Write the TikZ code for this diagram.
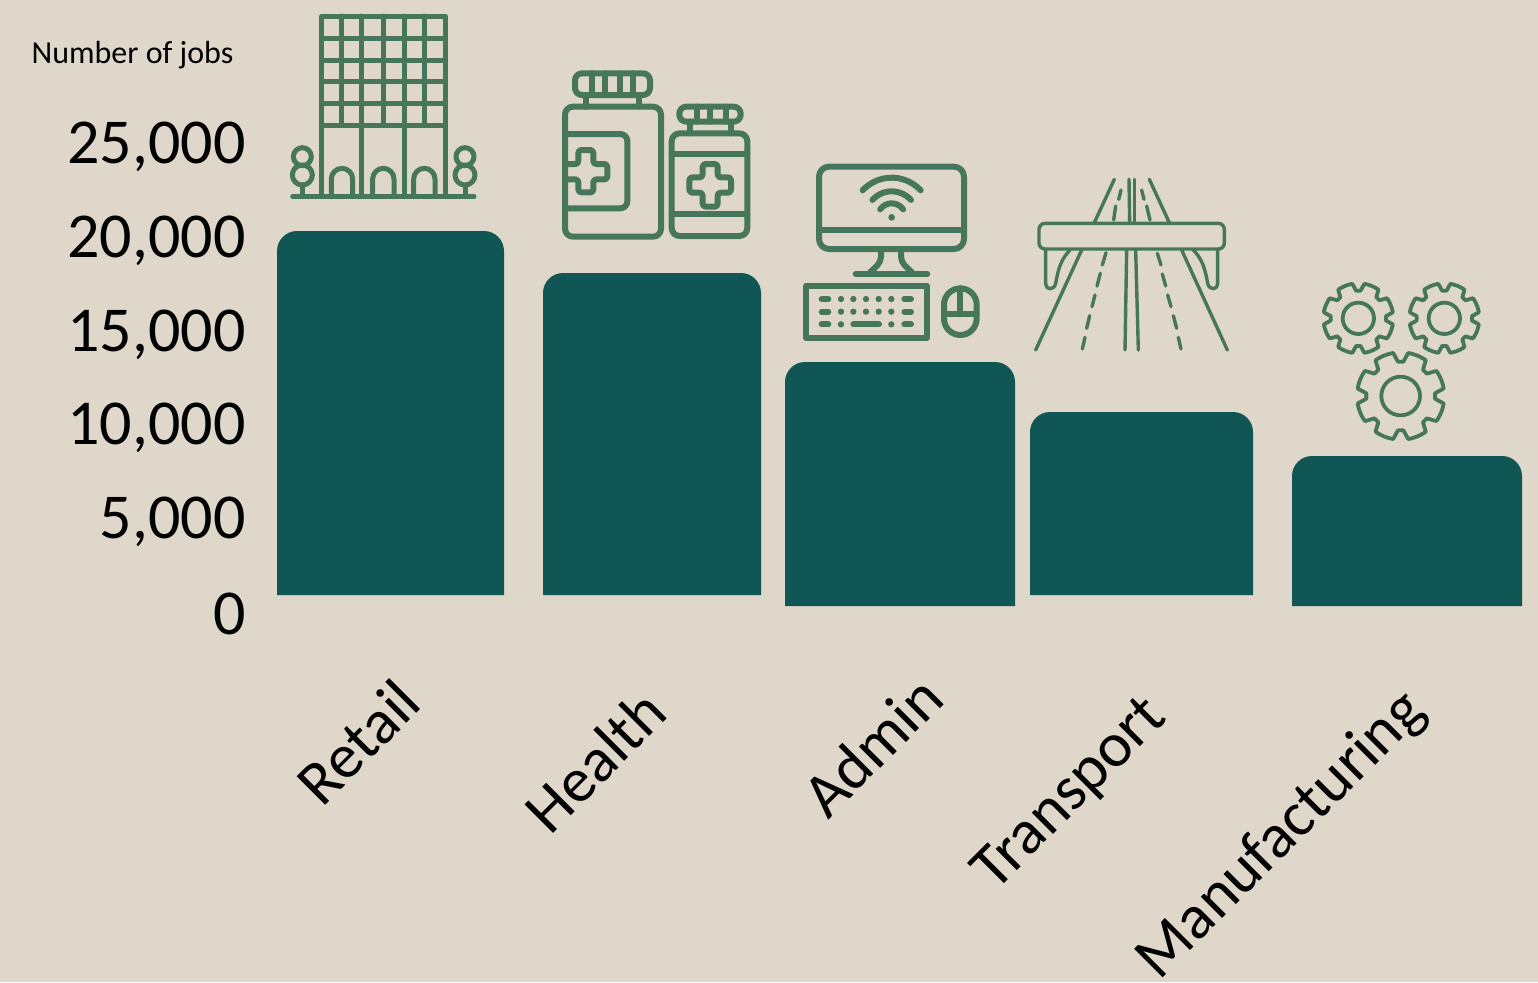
\documentclass[tikz,border=0pt]{standalone}
\usepackage{fontspec}
\setmainfont{Carlito}
\definecolor{bgc}{HTML}{DFD7CA}
\definecolor{barc}{HTML}{105654}
\definecolor{icon}{HTML}{47775B}
\tikzset{
  tick/.style={font=\fontsize{32}{36}\selectfont,anchor=east,inner sep=0pt,text=black},
  cat/.style={font=\fontsize{31.5}{36}\selectfont,rotate=45,inner sep=0pt,text=black},
  ico/.style={draw=icon,line width=2.5pt,line cap=round,line join=round},
  bold ico/.style={draw=icon,line width=3pt,line cap=round,line join=round},
  thin ico/.style={draw=icon,line width=1.7pt,line cap=round,line join=round},
}
\newcommand{\gearat}[5]{% cx cy R depth hole
  \draw[ico,line width=1.9pt] plot[domain=0:360,samples=361] ({#1+(#3-#4*max(0,min(1,-0.3+1.6*cos(8*\x))))*cos(\x)},{#2+(#3-#4*max(0,min(1,-0.3+1.6*cos(8*\x))))*sin(\x)}) -- cycle;
  \draw[ico,line width=1.9pt] (#1,#2) circle[radius=#5];
}
\begin{document}
\begin{tikzpicture}[x=0.5pt,y=-0.5pt]
\useasboundingbox (0,0) rectangle (1538,982);
\clip (0,0) rectangle (1538,982);
\fill[bgc] (0,0) rectangle (1538,982);
% bars
\fill[barc] (277,595) -- (277,251) arc[start angle=180,end angle=270,radius=20] -- (484,231) arc[start angle=-90,end angle=0,radius=20] -- (504,595) -- cycle;
\fill[barc] (543,595) -- (543,293) arc[start angle=180,end angle=270,radius=20] -- (741,273) arc[start angle=-90,end angle=0,radius=20] -- (761,595) -- cycle;
\fill[barc] (785,606) -- (785,382) arc[start angle=180,end angle=270,radius=20] -- (995,362) arc[start angle=-90,end angle=0,radius=20] -- (1015,606) -- cycle;
\fill[barc] (1030,595) -- (1030,432) arc[start angle=180,end angle=270,radius=20] -- (1233,412) arc[start angle=-90,end angle=0,radius=20] -- (1253,595) -- cycle;
\fill[barc] (1292,606) -- (1292,476) arc[start angle=180,end angle=270,radius=20] -- (1502,456) arc[start angle=-90,end angle=0,radius=20] -- (1522,606) -- cycle;
% axis text
\node[anchor=center,inner sep=0pt,font=\fontsize{16}{19}\selectfont] (ytitle) at (132.5,55) {Number of jobs};
\node[tick] (t25) at (246,147) {25,000};
\node[tick] (t20) at (246,241) {20,000};
\node[tick] (t15) at (246,335) {15,000};
\node[tick] (t10) at (246,428) {10,000};
\node[tick] (t5) at (246,522) {5,000};
\node[tick] (t0) at (246,614) {0};
\node[cat] (cRetail) at (358,742) {Retail};
\node[cat] (cHealth) at (595,761) {Health};
\node[cat] (cAdmin) at (872,746) {Admin};
\node[cat] (cTransport) at (1071,795) {Transport};
\node[cat] (cManu) at (1282,836) {Manufacturing};
% building
\begin{scope}[shift={(280,0)},scale=1/3]
\draw[ico] (125,48) rectangle (495,590);
\foreach \y in {115,182,245,310,375} \draw[ico] (125,\y) -- (495,\y);
\foreach \x in {185,245,310,372,432} \draw[ico] (\x,48) -- (\x,375);
\foreach \x in {245,372} \draw[ico] (\x,375) -- (\x,590);
\draw[ico] (38,590) -- (582,590);
\foreach \x in {186,310,433} \draw[ico] (\x-32,590) -- (\x-32,537) arc[start angle=180,end angle=360,radius=32] -- (\x+32,590);
\foreach \x in {67,555} {
  \draw[ico] (\x,470) circle[radius=27];
  \draw[ico] (\x,525) circle[radius=30];
  \draw[ico] (\x,555) -- (\x,590);
}
\end{scope}
% bottles
\begin{scope}[shift={(550,60)},scale=1/3]
\draw[bold ico,rounded corners=4pt] (45,140) rectangle (333,530);
\draw[bold ico,rounded corners=3.5pt] (75,40) rectangle (300,105);
\foreach \x in {125,165,210,250} \draw[bold ico] (\x,40) -- (\x,105);
\foreach \x in {108,268} \draw[bold ico] (\x,105) -- (\x,140);
\draw[bold ico,rounded corners=3.5pt] (45,222) -- (232,222) -- (232,445) -- (45,445);
\draw[bold ico,rounded corners=1.5pt] (45,312) -- (85,312) -- (85,270) -- (130,270) -- (130,312) -- (172,312) -- (172,358) -- (130,358) -- (130,397) -- (85,397) -- (85,358) -- (45,358);
\draw[bold ico,rounded corners=4pt] (365,220) rectangle (592,528);
\draw[bold ico,rounded corners=3.5pt] (388,140) rectangle (572,185);
\foreach \x in {440,480,528} \draw[bold ico] (\x,140) -- (\x,185);
\foreach \x in {420,542} \draw[bold ico] (\x,185) -- (\x,220);
\foreach \y in {283,462} \draw[bold ico] (365,\y) -- (592,\y);
\draw[bold ico,rounded corners=1.5pt] (458,312) -- (503,312) -- (503,352) -- (543,352) -- (543,398) -- (503,398) -- (503,440) -- (458,440) -- (458,398) -- (418,398) -- (418,352) -- (458,352) -- cycle;
\end{scope}
% computer
\begin{scope}[shift={(795,155)},scale=1/3]
\draw[bold ico,rounded corners=5pt] (72,35) rectangle (507,282);
\draw[bold ico] (72,225) -- (507,225);
\draw[bold ico] (182,357) -- (397,357);
\draw[bold ico] (258,282) -- (258,305) .. controls (258,325) and (240,338) .. (225,352);
\draw[bold ico] (318,282) -- (318,305) .. controls (318,325) and (336,338) .. (351,352);
\foreach \r/\a in {42/35,78/42,119/43} \draw[bold ico] (290,187) ++(-\a:\r) arc[start angle=-\a,end angle=-180+\a,radius=\r];
\fill[icon] (290,187) circle[radius=10];
\draw[bold ico] (32,392) rectangle (397,548);
\foreach \y in {432,470,508} {
  \foreach \x in {138,289} \fill[icon] (\x,\y) circle[radius=9.5];
  \draw[bold ico] (80,\y) -- (100,\y);
  \draw[bold ico] (328,\y) -- (348,\y);
}
\foreach \y in {432,470} \foreach \x in {175,213,251} \fill[icon] (\x,\y) circle[radius=9.5];
\draw[bold ico] (175,508) -- (252,508);
\draw[bold ico] (447,449) arc[start angle=180,end angle=360,radius=49] -- (545,491) arc[start angle=0,end angle=180,radius=49] -- cycle;
\draw[bold ico] (447,478) -- (545,478);
\draw[bold ico] (496,400) -- (496,478);
\end{scope}
% road
\begin{scope}[shift={(1025,170)},scale=1/3]
\draw[thin ico,rounded corners=3pt] (42,160) rectangle (598,237);
\draw[thin ico] (268,28) -- (208,158);
\draw[thin ico] (373,28) -- (433,158);
\draw[thin ico] (312,28) -- (314,158);
\draw[thin ico] (328,28) -- (328,158);
\draw[thin ico] (170,240) -- (32,540);
\draw[thin ico] (470,240) -- (607,540);
\draw[thin ico] (305,240) -- (300,540);
\draw[thin ico] (332,240) -- (340,540);
\foreach \a/\b/\c/\d in {288/60/281/88,272/108/266/150,243/248/232/285,226/310/216/348,210/375/201/410,194/437/185/475,180/502/172/537,350/60/357/88,365/108/375/150,397/250/408/285,412/312/422/348,428/375/438/410,445/437/455/475,460/502/468/537}
  \draw[thin ico] (\a,\b) -- (\c,\d);
\draw[thin ico] (62,240) -- (62,342) .. controls (62,360) and (88,362) .. (92,340) .. controls (100,295) and (108,268) .. (135,240);
\draw[thin ico] (578,240) -- (578,342) .. controls (578,360) and (552,362) .. (548,340) .. controls (540,295) and (532,268) .. (505,240);
\end{scope}
% gears
\begin{scope}[shift={(1310,270)},scale=1/3]
\gearat{145}{145}{105}{22}{47}
\gearat{403}{145}{105}{22}{47}
\gearat{272}{378}{131}{28}{58}
\end{scope}
\end{tikzpicture}
\end{document}
